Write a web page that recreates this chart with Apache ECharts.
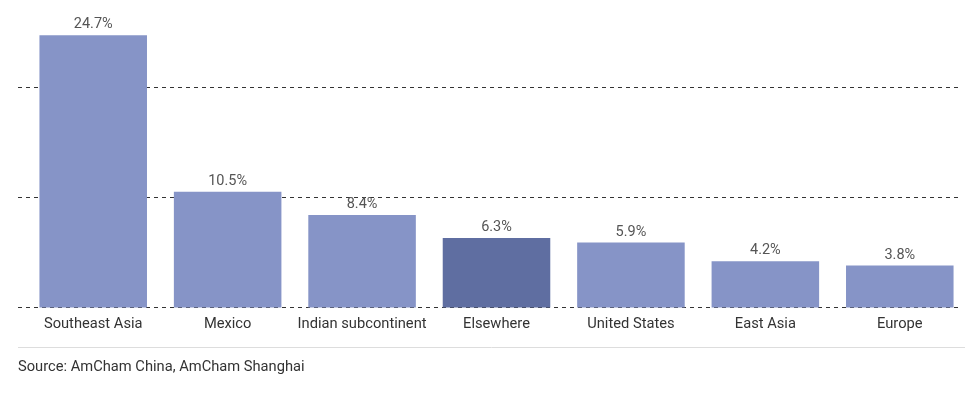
<!DOCTYPE html>
<html><head><meta charset="utf-8">
<script src="https://cdn.jsdelivr.net/npm/echarts@6/dist/echarts.min.js"></script>
<style>html,body{margin:0;padding:0;background:#fff}#c{width:975px;height:395px}</style>
</head><body><div id="c"></div>
<script>
const categories = ["Southeast Asia","Mexico","Indian subcontinent","Elsewhere","United States","East Asia","Europe"];
const values = [24.7,10.5,8.4,6.3,5.9,4.2,3.8];
const highlight = "Elsewhere";
const sourceText = "Source: AmCham China, AmCham Shanghai";

const chart = echarts.init(document.getElementById('c'));
chart.setOption({
  animation:false,
  textStyle:{fontFamily:'Roboto'},
  grid:[
    {left:18,right:13,top:87,bottom:87.5},
    {left:26,right:8,top:32,bottom:87.5}
  ],
  xAxis:[
    {gridIndex:0,type:'value',show:false,min:0,max:1},
    {gridIndex:1,type:'category',data:categories,
     axisLine:{show:false},axisTick:{show:false},
     axisLabel:{color:'#333',fontSize:14.7,margin:9,fontFamily:'Roboto',interval:0}}
  ],
  yAxis:[
    {gridIndex:0,type:'value',min:0,max:20,interval:10,
     axisLabel:{show:false},axisLine:{show:false},axisTick:{show:false},
     splitLine:{show:true,lineStyle:{color:'#333',type:[4,4],width:1}}},
    {gridIndex:1,type:'value',min:0,max:25,show:false,splitLine:{show:false}}
  ],
  series:[{
    type:'bar',xAxisIndex:1,yAxisIndex:1,
    barCategoryGap:'20%',
    data:categories.map((c,i)=>({value:values[i],itemStyle:{color:c===highlight?'#5f6ea1':'#8694c7'}})),
    label:{show:true,position:'top',distance:3,color:'#555',fontSize:14.5,fontFamily:'Roboto',
      formatter:p=>p.value.toFixed(1)+'%'}
  }],
  graphic:[
    {type:'line',shape:{x1:18,y1:347.5,x2:965,y2:347.5},style:{stroke:'#ddd',lineWidth:1}},
    {type:'text',left:18,top:360,style:{text:sourceText,fill:'#333',fontSize:14.7,fontFamily:'Roboto'}}
  ]
});
</script></body></html>
